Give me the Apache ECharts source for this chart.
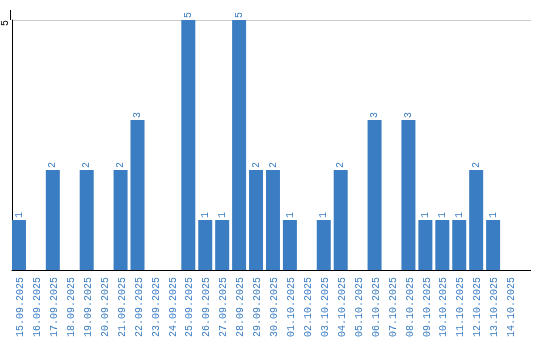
<!DOCTYPE html>
<html>
<head>
<meta charset="utf-8">
<script src="https://cdn.jsdelivr.net/npm/echarts@6/dist/echarts.min.js"></script>
<style>html,body{margin:0;padding:0;background:#fff}#c{width:540px;height:340px}</style>
</head>
<body>
<div id="c"></div>
<script>
var categories = ["15.09.2025","16.09.2025","17.09.2025","18.09.2025","19.09.2025","20.09.2025","21.09.2025","22.09.2025","23.09.2025","24.09.2025","25.09.2025","26.09.2025","27.09.2025","28.09.2025","29.09.2025","30.09.2025","01.10.2025","02.10.2025","03.10.2025","04.10.2025","05.10.2025","06.10.2025","07.10.2025","08.10.2025","09.10.2025","10.10.2025","11.10.2025","12.10.2025","13.10.2025","14.10.2025"];
var values = [1,0,2,0,2,0,2,3,0,0,5,1,1,5,2,2,1,0,1,2,0,3,0,3,1,1,1,2,1,0];
var yTicks = [0,5];

var FONT = "Liberation Mono";
var BLUE = "#3b7dc2";
var chart = echarts.init(document.getElementById('c'), null, {renderer:'canvas'});
chart.setOption({
  animation:false,
  grid:{left:10, top:20, width:510, height:250, containLabel:false},
  xAxis:{
    type:'category', data:categories,
    axisLine:{show:true, lineStyle:{color:'#000', width:1}},
    axisTick:{show:false},
    axisLabel:{rotate:90, interval:0, margin:7, color:BLUE, fontFamily:FONT, fontSize:10}
  },
  yAxis:{
    type:'value', min:yTicks[0], max:yTicks[1], interval:5,
    axisLine:{show:true, lineStyle:{color:'#000', width:1}},
    axisTick:{show:false},
    axisLabel:{rotate:90, margin:2, color:'#000', fontFamily:FONT, fontSize:10, align:'right',
      formatter:function(v){return v===0?'':String(v);}},
    splitLine:{show:true, lineStyle:{color:'#ccc', width:1}}
  },
  series:[{
    type:'bar', data:values, barWidth:14, barGap:0,
    itemStyle:{color:BLUE},
    label:{show:true, position:'top', rotate:90, align:'left', verticalAlign:'middle', distance:2,
      color:BLUE, fontFamily:FONT, fontSize:10,
      formatter:function(p){return p.value?String(p.value):'';}}
  },{
    type:'bar', data:[], barWidth:3, silent:true
  }],
  graphic:[
    {type:'line', shape:{x1:10.5,y1:10,x2:10.5,y2:20}, style:{stroke:'#000', lineWidth:1}},
    {type:'line', shape:{x1:520,y1:270.5,x2:531,y2:270.5}, style:{stroke:'#000', lineWidth:1}},
    {type:'line', shape:{x1:520,y1:20.5,x2:531,y2:20.5}, style:{stroke:'#ccc', lineWidth:1}}
  ]
});
</script>
</body>
</html>
